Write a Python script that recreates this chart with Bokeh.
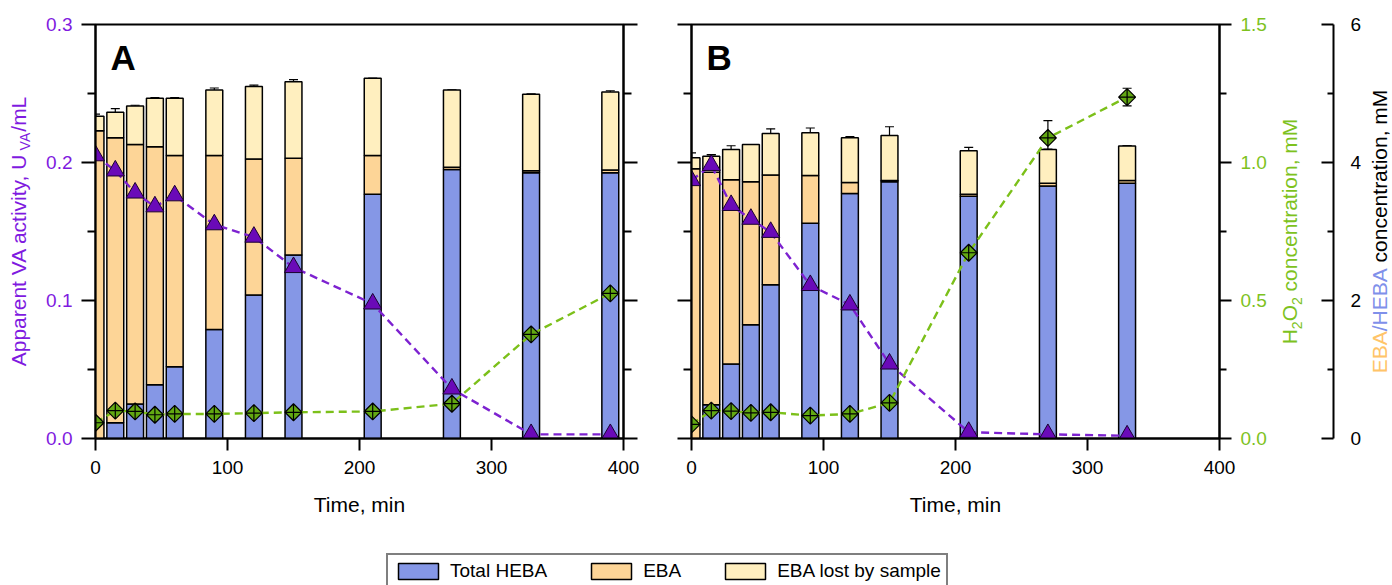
import math
from bokeh.plotting import figure
from bokeh.models import (Range1d, LinearAxis, FixedTicker, NumeralTickFormatter,
                          CustomJSTickFormatter, ColumnDataSource, Whisker, TeeHead,
                          Label, Legend, LegendItem)
from bokeh.layouts import row, column
from bokeh.embed import file_html
from bokeh.resources import INLINE

# ---------------- data ----------------
# Panel A
time_a = [0, 15, 30, 45, 60, 90, 120, 150, 210, 270, 330, 390]
heba_a = [0.0, 0.23, 0.50, 0.78, 1.04, 1.58, 2.08, 2.66, 3.54, 3.90, 3.85, 3.85]
eba_a = [4.46, 4.13, 3.76, 3.45, 3.06, 2.52, 1.97, 1.40, 0.56, 0.03, 0.03, 0.04]
lost_a = [0.21, 0.37, 0.56, 0.70, 0.83, 0.95, 1.05, 1.11, 1.12, 1.12, 1.11, 1.13]
total_err_a = [0.03, 0.05, 0.01, 0.01, 0.01, 0.03, 0.02, 0.03, 0.0, 0.0, 0.0, 0.02]
va_a = [0.205, 0.194, 0.178, 0.168, 0.176, 0.155, 0.146, 0.124, 0.0976, 0.036, 0.003, 0.003]
va_err_a = [0.002, 0.0114, 0.007, 0.007, 0.0036, 0.007, 0.0068, 0.009, 0.0047, 0.003, 0.001, 0.001]
h2o2_a = [0.057, 0.101, 0.098, 0.086, 0.089, 0.089, 0.092, 0.095, 0.098, 0.126, 0.377, 0.526]
h2o2_err_a = [0.02, 0.02, 0.041, 0.039, 0.02, 0.02, 0.02, 0.02, 0.02, 0.02, 0.02, 0.02]

# Panel B
time_b = [0, 15, 30, 45, 60, 90, 120, 150, 210, 270, 330]
heba_b = [0.0, 0.49, 1.08, 1.65, 2.23, 3.12, 3.55, 3.72, 3.51, 3.66, 3.70]
eba_b = [3.91, 3.37, 2.67, 2.07, 1.59, 0.69, 0.16, 0.02, 0.03, 0.04, 0.04]
lost_b = [0.16, 0.23, 0.44, 0.54, 0.60, 0.62, 0.65, 0.65, 0.63, 0.49, 0.50]
total_err_b = [0.07, 0.02, 0.053, 0.0, 0.068, 0.07, 0.015, 0.128, 0.048, 0.0, 0.0]
va_b = [0.187, 0.198, 0.169, 0.159, 0.1495, 0.111, 0.0969, 0.0541, 0.0046, 0.003, 0.002]
va_err_b = [0.003, 0.0078, 0.0097, 0.0092, 0.0067, 0.002, 0.002, 0.002, 0.001, 0.001, 0.001]
h2o2_b = [0.051, 0.101, 0.099, 0.093, 0.095, 0.083, 0.089, 0.129, 0.673, 1.089, 1.237]
h2o2_err_b = [0.02, 0.02, 0.02, 0.02, 0.02, 0.02, 0.02, 0.02, 0.01, 0.063, 0.032]

x_ticks = [0, 100, 200, 300, 400]
va_ticks = [0.0, 0.1, 0.2, 0.3]
va_minor = [0.05, 0.15, 0.25]
h2o2_ticks = [0.0, 0.5, 1.0, 1.5]
h2o2_minor = [0.25, 0.75, 1.25]
mm_ticks = [0, 2, 4, 6]
mm_minor = [1, 3, 5]
legend_labels = ["Total HEBA", "EBA", "EBA lost by sample"]

# ---------------- style ----------------
FONT = "Liberation Sans"
C_HEBA = "#8597E6"
C_EBA = "#FDD597"
C_LOST = "#FFEFBF"
C_PURPLE_MK = "#6A0AB8"
C_PURPLE_LN = "#7D22D0"
C_PURPLE_TX = "#7F1AE0"
C_GREEN_MK = "#62A812"
C_GREEN_LN = "#7CC01A"
C_GREEN_TX = "#7DC21E"
C_EBA_TX = "#FFC468"
C_HEBA_TX = "#7F90EA"

FW, FH = 528, 414
TOP, BOT = 24, 102
BASE_SHIFT = 0.42  # em; offset of the drawn baseline from the requested anchor
COMMON = dict(toolbar_location=None, output_backend="svg", tools="")

# Arial / Liberation Sans advance widths (per 1000 em) for laying out split titles
AW = {"A": 667, "B": 667, "E": 667, "H": 722, "L": 556, "M": 833, "O": 778, "T": 611,
      "U": 722, "V": 667, "a": 556, "b": 556, "c": 500, "e": 556, "i": 222, "l": 222,
      "m": 833, "n": 556, "o": 556, "p": 556, "r": 333, "s": 500, "t": 278, "v": 500,
      "y": 500, " ": 278, ",": 278, "/": 278, "2": 556}


def tw(s, size):
    return sum(AW.get(c, 556) for c in s) * size / 1000.0


def vertical_title(p, x_base, runs):
    """Rotated (bottom-to-top) title made of runs (text, size, color, baseline_shift)."""
    total = sum(tw(t, s) for t, s, c, d in runs)
    y = FH / 2.0 - total / 2.0
    for t, s, c, d in runs:
        body = t.lstrip(" ")
        y += tw(t[:len(t) - len(body)], s)
        p.add_layout(Label(x=x_base + d - BASE_SHIFT * s, y=y, x_units="screen",
                           y_units="screen", text=body, angle=math.pi / 2,
                           text_align="left", text_baseline="alphabetic",
                           text_font=FONT, text_font_size=f"{s}px", text_color=c))
        y += tw(body, s)


def blank_fig(width):
    p = figure(frame_width=width, frame_height=FH, min_border_left=0, min_border_right=0,
               min_border_top=TOP, min_border_bottom=BOT, x_range=Range1d(0, 1),
               y_range=Range1d(0, 1), x_axis_location=None, y_axis_location=None, **COMMON)
    p.outline_line_color = None
    p.xgrid.visible = False
    p.ygrid.visible = False
    return p


def style_axis(ax, color="black", tick_out=12, minor_out=7, tick_in=0, minor_in=0, standoff=9):
    ax.axis_line_width = 2
    ax.axis_line_color = "black"
    ax.major_tick_line_width = 2
    ax.minor_tick_line_width = 2
    ax.major_tick_line_color = "black"
    ax.minor_tick_line_color = "black"
    ax.major_tick_out = tick_out
    ax.major_tick_in = tick_in
    ax.minor_tick_out = minor_out
    ax.minor_tick_in = minor_in
    ax.major_label_text_font = FONT
    ax.major_label_text_font_size = "19px"
    ax.major_label_text_color = color
    ax.major_label_standoff = standoff
    ax.axis_label_text_font = FONT
    ax.axis_label_text_font_size = "21px"
    ax.axis_label_text_font_style = "normal"
    ax.axis_label_text_color = "black"


def panel(t, heba, eba, lost, terr, va, vaerr, h2, h2err, left_pad, right_pad, letter):
    p = figure(frame_width=FW, frame_height=FH, min_border_left=left_pad,
               min_border_right=right_pad, min_border_top=TOP, min_border_bottom=BOT,
               x_range=Range1d(0, 400), y_range=Range1d(0, 0.3), **COMMON)
    p.extra_y_ranges = {"h2o2": Range1d(0, 1.5), "mM": Range1d(0, 6)}
    p.xgrid.visible = False
    p.ygrid.visible = False
    p.outline_line_color = "black"
    p.outline_line_width = 2

    xa = p.xaxis[0]
    xa.ticker = FixedTicker(ticks=x_ticks, minor_ticks=[])
    style_axis(xa, tick_out=12, minor_out=0, standoff=10)
    xa.axis_label = "Time, min"
    xa.axis_label_standoff = 16

    ya = p.yaxis[0]
    ya.ticker = FixedTicker(ticks=va_ticks, minor_ticks=va_minor)
    ya.formatter = NumeralTickFormatter(format="0.0")
    style_axis(ya, color=C_PURPLE_TX, tick_out=14, minor_out=8, standoff=9)

    tot = [a + b + c for a, b, c in zip(heba, eba, lost)]
    bsrc = ColumnDataSource(dict(t=t, heba=heba, eba=eba, lost=lost,
                                 hi=[v + e for v, e in zip(tot, terr)],
                                 lo=[v - e for v, e in zip(tot, terr)]))
    p.vbar_stack(["heba", "eba", "lost"], x="t", width=12.8, source=bsrc,
                 fill_color=[C_HEBA, C_EBA, C_LOST], line_color="black",
                 line_width=1.5, y_range_name="mM")
    p.add_layout(Whisker(source=bsrc, base="t", upper="hi", lower="lo", y_range_name="mM",
                         line_width=1.2,
                         upper_head=TeeHead(size=9, line_width=1.2),
                         lower_head=TeeHead(size=9, line_width=1.2)))

    vsrc = ColumnDataSource(dict(t=t, v=va,
                                 hi=[a + e for a, e in zip(va, vaerr)],
                                 lo=[a - e for a, e in zip(va, vaerr)]))
    p.line("t", "v", source=vsrc, line_color=C_PURPLE_LN, line_width=2.4, line_dash="8 5")

    hsrc = ColumnDataSource(dict(t=t, h=h2,
                                 hi=[a + e for a, e in zip(h2, h2err)],
                                 lo=[a - e for a, e in zip(h2, h2err)]))
    p.line("t", "h", source=hsrc, line_color=C_GREEN_LN, line_width=2.4, line_dash="8 5",
           y_range_name="h2o2")

    p.scatter("t", "v", source=vsrc, marker="triangle", size=18, fill_color=C_PURPLE_MK,
              line_color="#1a0030", line_width=1)
    p.scatter("t", "h", source=hsrc, marker="square_x", angle=math.pi / 4, size=12,
              fill_color=C_GREEN_MK, line_color="black", line_width=1.2, y_range_name="h2o2")

    p.add_layout(Whisker(source=vsrc, base="t", upper="hi", lower="lo", line_width=1.2,
                         upper_head=TeeHead(size=9, line_width=1.2),
                         lower_head=TeeHead(size=9, line_width=1.2)))
    p.add_layout(Whisker(source=hsrc, base="t", upper="hi", lower="lo", y_range_name="h2o2",
                         line_width=1.2,
                         upper_head=TeeHead(size=9, line_width=1.2),
                         lower_head=TeeHead(size=9, line_width=1.2)))

    # panel letter: baseline 48 px below the frame top, 15 px right of the frame edge
    p.add_layout(Label(x=15, y=FH - 48 + BASE_SHIFT * 35, x_units="screen", y_units="screen",
                       text=letter, text_font=FONT, text_font_size="35px",
                       text_font_style="bold", text_baseline="alphabetic", text_color="black"))
    return p, bsrc


# ---------------- left title strip ----------------
pT = blank_fig(40)
vertical_title(pT, 26.5, [("Apparent VA activity, U", 21, C_PURPLE_TX, 0),
                          ("VA", 14, C_PURPLE_TX, 4),
                          ("/mL", 21, C_PURPLE_TX, 0)])

# ---------------- panel A ----------------
pA, src_a = panel(time_a, heba_a, eba_a, lost_a, total_err_a, va_a, va_err_a, h2o2_a,
                  h2o2_err_a, 55, 27, "A")
ra = LinearAxis(ticker=FixedTicker(ticks=va_ticks, minor_ticks=va_minor),
                formatter=CustomJSTickFormatter(code="return ''"))
style_axis(ra, tick_out=14, minor_out=8, standoff=0)
pA.add_layout(ra, "right")

# ---------------- panel B ----------------
pB, src_b = panel(time_b, heba_b, eba_b, lost_b, total_err_b, va_b, va_err_b, h2o2_b,
                  h2o2_err_b, 41, 56, "B")
pB.yaxis[0].formatter = CustomJSTickFormatter(code="return ''")
pB.yaxis[0].major_label_standoff = 0
ga = LinearAxis(y_range_name="h2o2", ticker=FixedTicker(ticks=h2o2_ticks, minor_ticks=h2o2_minor),
                formatter=NumeralTickFormatter(format="0.0"))
style_axis(ga, color=C_GREEN_TX, tick_out=12, minor_out=7, standoff=9)
pB.add_layout(ga, "right")

# ---------------- green title + mM axis ----------------
pC = figure(frame_width=58, frame_height=FH, min_border_left=0, min_border_right=29,
            min_border_top=TOP, min_border_bottom=BOT, x_range=Range1d(0, 1),
            y_range=Range1d(0, 6), x_axis_location=None, y_axis_location="right", **COMMON)
pC.outline_line_color = None
pC.xgrid.visible = False
pC.ygrid.visible = False
ca = pC.yaxis[0]
ca.ticker = FixedTicker(ticks=mm_ticks, minor_ticks=mm_minor)
ca.formatter = NumeralTickFormatter(format="0")
style_axis(ca, tick_out=0, minor_out=0, tick_in=12, minor_in=6, standoff=17)
vertical_title(pC, 23, [("H", 21, C_GREEN_TX, 0), ("2", 14, C_GREEN_TX, 4),
                        ("O", 21, C_GREEN_TX, 0), ("2", 14, C_GREEN_TX, 4),
                        (" concentration, mM", 21, C_GREEN_TX, 0)])

# ---------------- right title strip ----------------
pE = blank_fig(30)
vertical_title(pE, 24, [("EBA", 21, C_EBA_TX, 0), ("/HEBA", 21, C_HEBA_TX, 0),
                        (" concentration, mM", 21, "black", 0)])

# ---------------- legend strip ----------------
pL = figure(frame_width=1392, frame_height=45, min_border=0, x_range=Range1d(1000, 1001),
            y_range=Range1d(100, 101), x_axis_location=None, y_axis_location=None, **COMMON)
pL.outline_line_color = None
pL.xgrid.visible = False
pL.ygrid.visible = False
# same stacked series as panel A, hidden; they only supply the legend swatches
leg_r = pL.vbar_stack(["heba", "eba", "lost"], x="t", width=12.8, source=src_a,
                      fill_color=[C_HEBA, C_EBA, C_LOST], line_color="black", line_width=1.5)
for r in leg_r:
    r.visible = False
items = [LegendItem(label=lab, renderers=[r]) for lab, r in zip(legend_labels, leg_r)]
leg = Legend(items=items, orientation="horizontal", location=(386, -4),
             glyph_width=50, glyph_height=20, label_standoff=7, spacing=39, padding=5,
             margin=0, border_line_color="black", border_line_width=2,
             background_fill_color="white", background_fill_alpha=1.0,
             label_text_font=FONT, label_text_font_size="19px", label_text_color="black")
pL.add_layout(leg)

layout = column(row(pT, pA, pB, pC, pE), pL)
open("out.html", "w").write(file_html(layout, INLINE))
